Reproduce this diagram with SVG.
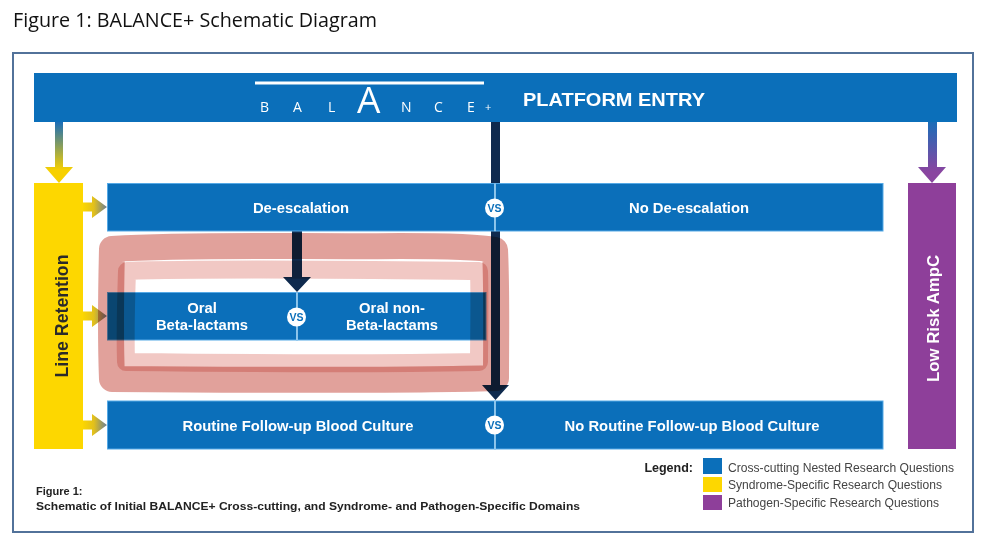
<svg xmlns="http://www.w3.org/2000/svg" width="1000" height="543" viewBox="0 0 1000 543">
<defs>
<linearGradient id="gDownY" gradientUnits="userSpaceOnUse" x1="0" y1="122" x2="0" y2="170">
<stop offset="0" stop-color="#1a6db8"/><stop offset="1" stop-color="#f7d000"/>
</linearGradient>
<linearGradient id="gDownP" gradientUnits="userSpaceOnUse" x1="0" y1="122" x2="0" y2="172">
<stop offset="0" stop-color="#1a6db8"/><stop offset="1" stop-color="#8a45a0"/>
</linearGradient>
<linearGradient id="gRight" gradientUnits="userSpaceOnUse" x1="83" y1="0" x2="107" y2="0">
<stop offset="0" stop-color="#fbd600"/><stop offset="0.45" stop-color="#e2c01c"/><stop offset="1" stop-color="#6a7e96"/>
</linearGradient>
<style>
.bar{fill:#0b6fba;stroke:#55a9e6;stroke-width:1}
.lbl{font-family:"Liberation Sans",Arial,sans-serif;font-weight:bold;font-size:14.8px;fill:#ffffff;text-anchor:middle}
.vsc{fill:#ffffff}
.vst{font-family:"Liberation Sans",Arial,sans-serif;font-weight:bold;font-size:10.5px;fill:#0b6fba;text-anchor:middle}
.div{stroke:#a8d4f2;stroke-width:1.5}
.dark{fill:#0f2a4e}
.logo{font-family:"Open Sans","DejaVu Sans",sans-serif;fill:#ffffff;font-size:14px}
.big{font-size:37px}
.plus{font-size:11px}
.leg{font-family:"Liberation Sans",Arial,sans-serif;font-size:12.5px;fill:#444444}
.cap{font-family:"Liberation Sans",Arial,sans-serif;font-weight:bold;font-size:11px;fill:#222222}
.hl{fill:none;stroke-linejoin:round;stroke-linecap:round;mix-blend-mode:multiply}
</style>
</defs>
<rect width="1000" height="543" fill="#ffffff"/>
<text x="13" y="27" font-family="'Open Sans','Liberation Sans',sans-serif" font-size="20" fill="#111111" textLength="364" lengthAdjust="spacingAndGlyphs">Figure 1: BALANCE+ Schematic Diagram</text>
<rect x="13" y="53" width="960" height="479" fill="none" stroke="#52729a" stroke-width="2"/>

<g id="connectors">
<path d="M55,122 H63 V167 H73 L59,183 L45,167 H55 Z" fill="url(#gDownY)"/>
<path d="M928,122 H937 V167 H946 L932,183 L918,167 H928 Z" fill="url(#gDownP)"/>
<path d="M83,202.5 H92 V196 L107,207 L92,218 V211.5 H83 Z" fill="url(#gRight)"/>
<path d="M83,311.5 H92 V305 L107,316 L92,327 V320.5 H83 Z" fill="url(#gRight)"/>
<path d="M83,420.5 H92 V414 L107,425 L92,436 V429.5 H83 Z" fill="url(#gRight)"/>
<path class="dark" d="M491,122 H500 V385 H509 L495.5,400 L482,385 H491 Z"/>
<path class="dark" d="M292,231 H302 V277 H311 L297,292 L283,277 H292 Z"/>
</g>

<g id="platform-entry">
<rect x="34" y="73" width="923" height="49" fill="#0b6fba"/>
<rect x="255" y="81.5" width="229" height="3" fill="#ffffff"/>
<text class="logo" x="260" y="112">B</text>
<text class="logo" x="293" y="112">A</text>
<text class="logo" x="328" y="112">L</text>
<text class="logo big" x="357" y="113">A</text>
<text class="logo" x="401" y="112">N</text>
<text class="logo" x="434" y="112">C</text>
<text class="logo" x="467" y="112">E</text>
<text class="logo plus" x="485" y="111">+</text>
<text x="523" y="106" font-family="'Liberation Sans',Arial,sans-serif" font-weight="bold" font-size="19" fill="#ffffff" textLength="182" lengthAdjust="spacingAndGlyphs">PLATFORM ENTRY</text>
</g>

<g id="line-retention">
<rect x="34" y="183" width="49" height="266" fill="#fdd700"/>
<text transform="translate(68,316) rotate(-90)" font-family="'Liberation Sans',Arial,sans-serif" font-weight="bold" font-size="17.5" fill="#2a2a2a" text-anchor="middle" textLength="123" lengthAdjust="spacingAndGlyphs">Line Retention</text>
</g>

<g id="low-risk-ampc">
<rect x="908" y="183" width="48" height="266" fill="#8e3f9a"/>
<text transform="translate(938.5,318.5) rotate(-90)" font-family="'Liberation Sans',Arial,sans-serif" font-weight="bold" font-size="17" fill="#ffffff" text-anchor="middle" textLength="127" lengthAdjust="spacingAndGlyphs">Low Risk AmpC</text>
</g>

<g id="de-escalation">
<rect class="bar" x="107.5" y="183.5" width="387.5" height="47.5"/>
<text class="lbl" x="301" y="213">De-escalation</text>
</g>
<g id="no-de-escalation">
<rect class="bar" x="495" y="183.5" width="388" height="47.5"/>
<text class="lbl" x="689" y="213">No De-escalation</text>
</g>
<g id="vs-deesc">
<line class="div" x1="495" y1="183.5" x2="495" y2="231"/>
<circle class="vsc" cx="494.5" cy="208" r="9.5"/>
<text class="vst" x="494.5" y="211.8">VS</text>
</g>

<g id="oral-beta-lactams">
<rect class="bar" x="107.5" y="292.5" width="189.5" height="47.5"/>
<text class="lbl" x="202" y="313">Oral</text>
<text class="lbl" x="202" y="330">Beta-lactams</text>
</g>
<g id="oral-non-beta-lactams">
<rect class="bar" x="297" y="292.5" width="189" height="47.5"/>
<text class="lbl" x="392" y="313">Oral non-</text>
<text class="lbl" x="392" y="330">Beta-lactams</text>
</g>
<g id="vs-oral">
<line class="div" x1="297" y1="292.5" x2="297" y2="340"/>
<circle class="vsc" cx="296.5" cy="317" r="9.5"/>
<text class="vst" x="296.5" y="320.8">VS</text>
</g>

<g id="routine-follow-up">
<rect class="bar" x="107.5" y="401" width="387.5" height="48"/>
<text class="lbl" x="298" y="431">Routine Follow-up Blood Culture</text>
</g>
<g id="no-routine-follow-up">
<rect class="bar" x="495" y="401" width="388" height="48"/>
<text class="lbl" x="692" y="431">No Routine Follow-up Blood Culture</text>
</g>
<g id="vs-routine">
<line class="div" x1="495" y1="401" x2="495" y2="449"/>
<circle class="vsc" cx="494.5" cy="425" r="9.5"/>
<text class="vst" x="494.5" y="428.8">VS</text>
</g>

<g id="highlight">
<path class="hl" stroke="#d98a82" stroke-opacity="0.8" stroke-width="26" d="M112,249 C200,244 300,247 400,246 C450,246 480,247 495,250 C497,290 496,340 496,378 C400,381 250,380 112,379 C110,330 111,290 112,249 Z"/>
<path class="hl" stroke="#ecb6b0" stroke-opacity="0.75" stroke-width="18" d="M127,271 C220,268 380,270 479,271 C480,300 479,340 479,362 C380,364 220,363 126,362 C125,330 126,300 127,271 Z"/>
</g>

<g id="legend">
<text x="693" y="472" font-family="'Liberation Sans',Arial,sans-serif" font-weight="bold" font-size="12.5" fill="#222222" text-anchor="end">Legend:</text>
<rect x="703" y="458" width="19" height="16" fill="#0b6fba"/>
<rect x="703" y="477" width="19" height="15" fill="#fdd700"/>
<rect x="703" y="495" width="19" height="15" fill="#8e3f9a"/>
<text class="leg" x="728" y="472" textLength="226" lengthAdjust="spacingAndGlyphs">Cross-cutting Nested Research Questions</text>
<text class="leg" x="728" y="489" textLength="214" lengthAdjust="spacingAndGlyphs">Syndrome-Specific Research Questions</text>
<text class="leg" x="728" y="507" textLength="211" lengthAdjust="spacingAndGlyphs">Pathogen-Specific Research Questions</text>
</g>

<g id="caption">
<text class="cap" x="36" y="495">Figure 1:</text>
<text class="cap" x="36" y="509.5" textLength="544" lengthAdjust="spacingAndGlyphs">Schematic of Initial BALANCE+ Cross-cutting, and Syndrome- and Pathogen-Specific Domains</text>
</g>
</svg>
